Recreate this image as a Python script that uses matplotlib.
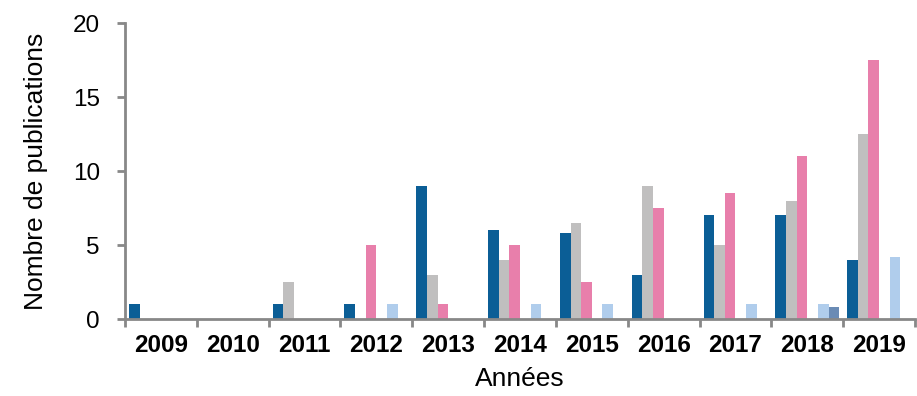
import numpy as np
import matplotlib.pyplot as plt

plt.rcParams['font.family'] = ['Liberation Sans', 'DejaVu Sans']

# Data
annees = ['2009', '2010', '2011', '2012', '2013', '2014', '2015', '2016', '2017', '2018', '2019']
serie_bleu = [1, 0, 1, 1, 9, 6, 5.8, 3, 7, 7, 4]
serie_gris = [0, 0, 2.5, 0, 3, 4, 6.5, 9, 5, 8, 12.5]
serie_rose = [0, 0, 0, 5, 1, 5, 2.5, 7.5, 8.5, 11, 17.5]
serie_bleu_clair = [0, 0, 0, 1, 0, 1, 1, 0, 1, 1, 4.2]
serie_bleu_acier = [0, 0, 0, 0, 0, 0, 0, 0, 0, 0.8, 0]

series = [serie_bleu, serie_gris, serie_rose, serie_bleu_clair, serie_bleu_acier]
couleurs = ['#0b5e96', '#c0bfbf', '#e87fab', '#b0cdec', '#6a8bb5']
slots = [0, 1, 2, 4, 5]  # 4th slot is empty in the original

fig = plt.figure(figsize=(9.17, 3.96), dpi=100)
ax = fig.add_axes([0.1363, 0.1944, 0.8615, 0.7475])

x = np.arange(len(annees))
largeur = 0.148
marge = 0.056
for vals, col, s in zip(series, couleurs, slots):
    v = np.array(vals, dtype=float)
    m = v > 0
    ax.bar(x[m] + marge + largeur * s, v[m], width=largeur, align='edge',
           color=col, linewidth=0)

ax.set_xlim(0, len(annees))
ax.set_ylim(0, 20)
ax.set_yticks([0, 5, 10, 15, 20])
ax.set_xticks(np.arange(len(annees) + 1))
ax.set_xticklabels([])
ax.set_xticks(x + 0.5, minor=True)
ax.set_xticklabels(annees, minor=True, fontsize=17.5, fontweight='bold')
ax.tick_params(axis='x', which='minor', length=0, pad=11)
ax.tick_params(axis='x', which='major', length=6, width=2, color='#888888', direction='out')
ax.tick_params(axis='y', length=6, width=2, color='#888888', direction='out', labelsize=17.5, pad=12)

for side in ['top', 'right']:
    ax.spines[side].set_visible(False)
for side in ['left', 'bottom']:
    ax.spines[side].set_color('#888888')
    ax.spines[side].set_linewidth(2)

ax.set_ylabel('Nombre de publications', fontsize=19, labelpad=18)
ax.set_xlabel('Années', fontsize=19, labelpad=7)

fig.savefig('out.png', dpi=100)
